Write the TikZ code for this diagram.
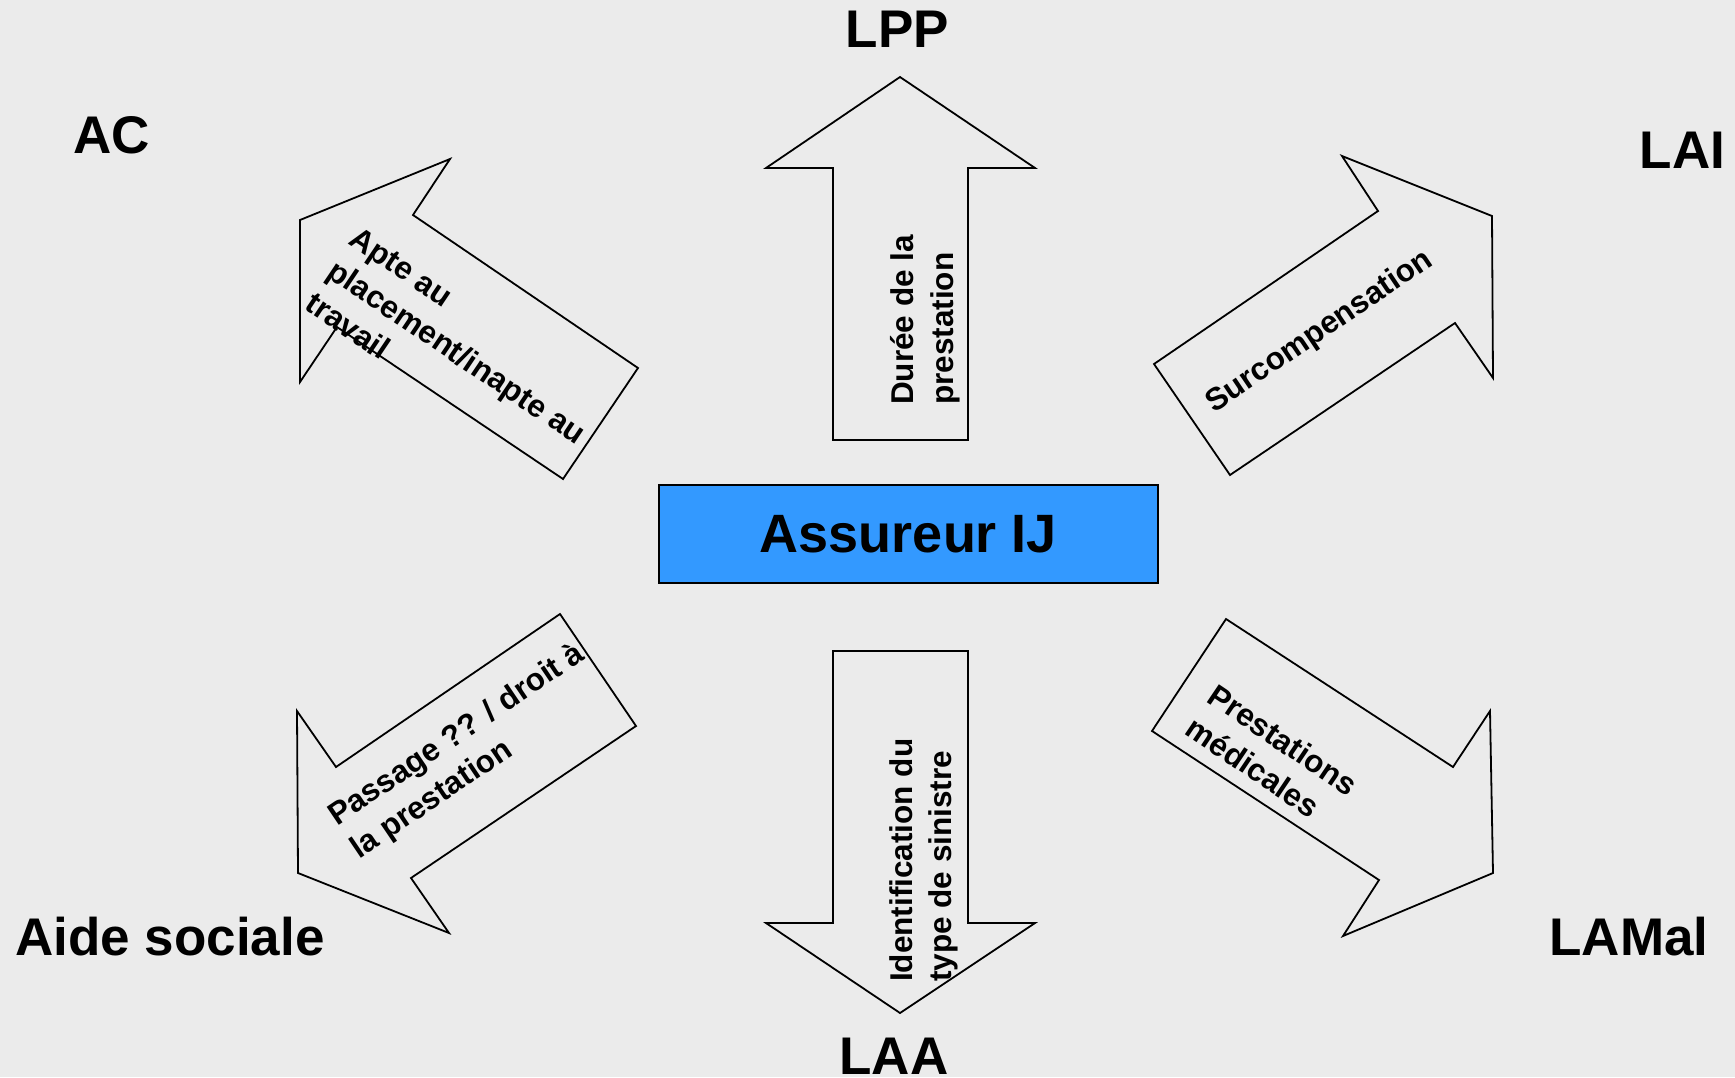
\documentclass[tikz,border=0pt]{standalone}
\usepackage{fontspec}
\setmainfont{Liberation Sans}
\definecolor{bg}{RGB}{235,235,235}
\definecolor{ijblue}{RGB}{51,153,255}
\begin{document}
\begin{tikzpicture}[x=1pt,y=-1pt,
  title/.style={font=\fontsize{53}{60}\selectfont\bfseries, inner sep=0pt},
  lbl/.style={font=\fontsize{31.5}{39.5}\selectfont\bfseries, inner sep=0pt, align=left},
  blockarrow/.style={draw=black, line width=1.8pt, line join=miter}]
\useasboundingbox (0,0) rectangle (1735,1077);
\fill[bg] (0,0) rectangle (1735,1077);

% block arrows
\draw[blockarrow] (450,159) -- (413,215) -- (638,368) -- (563,479) -- (337,327) -- (300,382) -- (300,220) -- cycle;
\draw[blockarrow] (900,77) -- (1035,168) -- (968,168) -- (968,440) -- (833,440) -- (833,168) -- (766,168) -- cycle;
\draw[blockarrow] (1342,156) -- (1492,216) -- (1493,378) -- (1455,323) -- (1230,475) -- (1154,364) -- (1378,211) -- cycle;
\draw[blockarrow] (560,614) -- (636,726) -- (411,878) -- (449,933) -- (298,873) -- (297,711) -- (336,767) -- cycle;
\draw[blockarrow] (833,651) -- (968,651) -- (968,923) -- (1035,923) -- (900,1013) -- (766,923) -- (833,923) -- cycle;
\draw[blockarrow] (1226,619) -- (1453,767) -- (1490,711) -- (1493,873) -- (1343,936) -- (1379,880) -- (1152,731) -- cycle;

% arrow labels
\node[lbl, rotate=90, anchor=west] (lpplbl) at (925,405) {Durée de la\\prestation};
\node[lbl, rotate=90, anchor=west] (laalbl) at (924,982) {Identification du\\type de sinistre};
\node[lbl, rotate=-34] (aclbl) at (457,352) {Apte au\\placement/inapte au\\travail};
\node[lbl, rotate=34] (lailbl) at (1320,332) {Surcompensation};
\node[lbl, rotate=34] (aslbl) at (468,752) {Passage ?? / droit à\\la prestation};
\node[lbl, rotate=-34] (lamlbl) at (1272,756) {Prestations\\médicales};

% centre box
\node[draw=black, line width=2.5pt, fill=ijblue, minimum width=499pt, minimum height=98pt, inner sep=0pt,
  font=\fontsize{54}{60}\selectfont\bfseries] (ij) at (908.5,534) {Assureur IJ};

% titles
\node[title] (ac) at (111.5,135) {AC};
\node[title] (lpp) at (897.5,29) {LPP};
\node[title] (lai) at (1682.5,150) {LAI};
\node[title] (aide) at (170,936.5) {Aide sociale};
\node[title] (lamal) at (1629,936.5) {LAMal};
\node[title] (laa) at (894,1056.5) {LAA};
\end{tikzpicture}
\end{document}
